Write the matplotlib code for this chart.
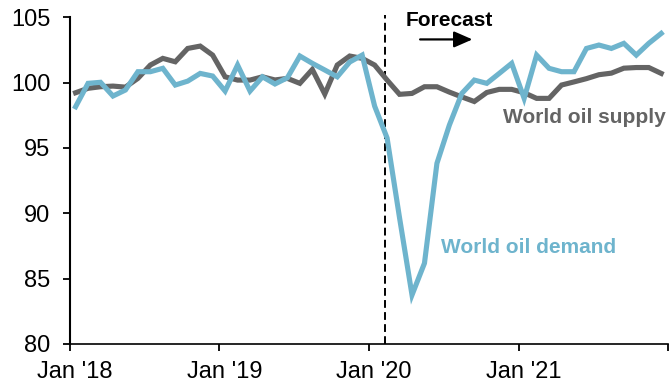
import matplotlib
matplotlib.use('agg')
import matplotlib.pyplot as plt
import matplotlib.transforms as mtransforms
import numpy as np

plt.rcParams['font.family'] = ['Liberation Sans', 'DejaVu Sans']

# monthly index values, Jan 2018 - Dec 2021
supply = [99.22, 99.56, 99.68, 99.73, 99.65, 100.32, 101.34, 101.85, 101.59, 102.61,
          102.79, 102.10, 100.44, 100.19, 100.19, 100.44, 100.20, 100.32, 99.94, 101.00,
          99.12, 101.34, 102.03, 101.85, 101.34, 100.19, 99.10, 99.17, 99.68, 99.68,
          99.27, 98.90, 98.55, 99.24, 99.48, 99.48, 99.22, 98.79, 98.79, 99.81,
          100.05, 100.30, 100.60, 100.72, 101.10, 101.15, 101.15, 100.70]
demand = [98.15, 99.94, 100.02, 98.97, 99.43, 100.83, 100.83, 101.09, 99.81, 100.11,
          100.70, 100.50, 99.35, 101.34, 99.35, 100.44, 99.89, 100.37, 102.03, 101.47,
          100.96, 100.44, 101.57, 102.10, 98.20, 95.76, 89.65, 83.75, 86.18, 93.82,
          96.75, 99.17, 100.19, 99.94, 100.70, 101.47, 98.79, 102.10, 101.09, 100.83,
          100.83, 102.61, 102.87, 102.61, 103.00, 102.10, 103.00, 103.76]
tick_labels = ["Jan '18", "Jan '19", "Jan '20", "Jan '21", ""]
forecast_start = 25.3

months = np.arange(len(supply)) + 0.45
grey = '#646464'
blue = '#6eb4cd'

fig = plt.figure(figsize=(6.69, 3.84), dpi=100)
ax = fig.add_axes([0.1046, 0.1042, 0.894, 0.851])

ax.plot(months, supply, color=grey, lw=3.7, solid_joinstyle='miter', zorder=2)
ax.plot(months, demand, color=blue, lw=3.7, solid_joinstyle='miter', zorder=3)

ax.plot([forecast_start, forecast_start], [80, 105.2], color='black', lw=1.4,
        linestyle=(0, (4, 2.2)), clip_on=False, zorder=1)

ax.text(26.9, 104.78, 'Forecast', fontsize=15, fontweight='bold', color='black',
        va='center', ha='left')
ax.annotate('', xy=(32.3, 103.3), xytext=(28.1, 103.3),
            arrowprops=dict(arrowstyle='-|>,head_length=0.8,head_width=0.35',
                            color='black', lw=1.6, mutation_scale=14,
                            shrinkA=0, shrinkB=0))

ax.text(34.75, 97.36, 'World oil supply', fontsize=15, fontweight='bold', color=grey,
        va='center', ha='left')
ax.text(29.8, 87.35, 'World oil demand', fontsize=15, fontweight='bold', color=blue,
        va='center', ha='left')

ax.set_xlim(0, 48)
ax.set_ylim(80, 105)
ax.set_xticks([0, 12, 24, 36, 48])
ax.set_xticklabels(tick_labels)
ax.set_yticks([80, 85, 90, 95, 100, 105])

for side in ['top', 'right']:
    ax.spines[side].set_visible(False)
ax.spines['left'].set_linewidth(1.5)
ax.spines['bottom'].set_linewidth(1.2)
ax.tick_params(axis='both', direction='out', length=5, width=1.3, labelsize=17,
               colors='black')
ax.tick_params(axis='y', pad=9)
ax.tick_params(axis='x', pad=7)

# date labels sit a little right of their ticks
shift = mtransforms.ScaledTranslation(5 / 100, 0, fig.dpi_scale_trans)
for lbl in ax.get_xticklabels():
    lbl.set_transform(lbl.get_transform() + shift)

fig.savefig('out.png', dpi=100)
